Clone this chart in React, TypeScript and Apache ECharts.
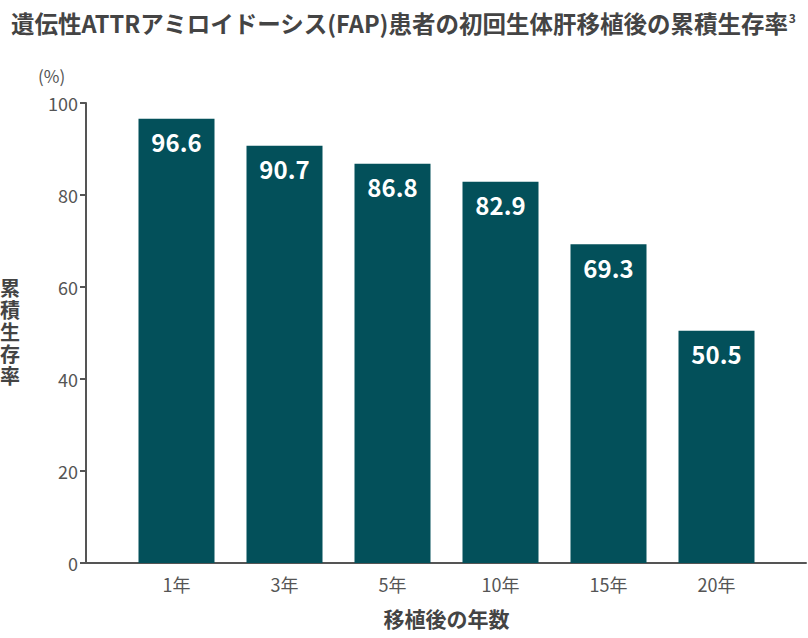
import { useEffect, useRef } from 'react';
import * as echarts from 'echarts';

const categories = ['1年', '3年', '5年', '10年', '15年', '20年'];
const survival = [96.6, 90.7, 86.8, 82.9, 69.3, 50.5];
const yTicks = [0, 20, 40, 60, 80, 100];
const yName = ['累', '積', '生', '存', '率'];

const FONT = '"Noto Sans CJK JP", "Noto Sans", sans-serif';
const BAR = '#03505a';
const GREY = '#555555';
const DARK = '#444444';

function App() {
  const chartRef = useRef<HTMLDivElement>(null);

  useEffect(() => {
    if (!chartRef.current) return;
    const chart = echarts.init(chartRef.current, null, { renderer: 'svg' });

    chart.setOption({
      animation: false,
      textStyle: { fontFamily: FONT },
      title: {
        text: '遺伝性ATTRアミロイドーシス(FAP)患者の初回生体肝移植後の累積生存率{sup|3}',
        left: 6,
        top: 6,
        textStyle: {
          fontFamily: FONT,
          fontSize: 23.5,
          fontWeight: 'bold',
          color: DARK,
          rich: {
            sup: { fontSize: 12, fontWeight: 'bold', color: DARK, verticalAlign: 'top', padding: [0, 0, 10, 0] },
          },
        },
      },
      grid: [
        { left: 122.5, right: 37.5, top: 103, bottom: 75 },
        { left: 86, right: 2, top: 103, bottom: 75 },
      ],
      xAxis: [
        {
          type: 'category',
          gridIndex: 0,
          data: categories,
          axisLine: { show: false },
          axisTick: { show: false },
          axisLabel: { color: GREY, fontSize: 18, margin: 12, fontFamily: FONT },
          name: '移植後の年数',
          nameLocation: 'middle',
          nameGap: 44,
          nameTextStyle: { color: DARK, fontSize: 21, fontWeight: 'bold', fontFamily: FONT },
        },
        {
          type: 'value',
          gridIndex: 1,
          min: 0,
          max: 1,
          axisLine: { show: true, lineStyle: { color: GREY, width: 2 } },
          axisTick: { show: false },
          axisLabel: { show: false },
          splitLine: { show: false },
        },
      ],
      yAxis: [
        {
          type: 'value',
          gridIndex: 0,
          min: 0,
          max: 100,
          interval: 20,
          offset: 36.5,
          axisLine: { show: true, lineStyle: { color: GREY, width: 2 } },
          axisTick: { show: true, length: 6, lineStyle: { color: GREY, width: 2 } },
          axisLabel: {
            color: GREY,
            fontSize: 18,
            margin: 8,
            fontFamily: FONT,
            formatter: (v: number) => (yTicks.includes(v) ? String(v) : ''),
          },
          splitLine: { show: false },
        },
        {
          type: 'value',
          gridIndex: 1,
          min: 0,
          max: 100,
          show: false,
        },
      ],
      graphic: [
        {
          type: 'text',
          left: 38,
          top: 67,
          style: { text: '(%)', fill: GREY, fontSize: 17, fontFamily: FONT },
        },
        ...yName.map((ch, i) => ({
          type: 'text',
          left: 0,
          top: 277 + i * 22,
          style: {
            text: ch,
            fill: DARK,
            fontSize: 20,
            fontWeight: 'bold',
            fontFamily: FONT,
          },
        })),
      ],
      series: [
        {
          type: 'bar',
          xAxisIndex: 0,
          yAxisIndex: 0,
          data: survival,
          barWidth: 76,
          itemStyle: { color: BAR },
          label: {
            show: true,
            position: 'insideTop',
            distance: 11,
            color: '#ffffff',
            fontSize: 24,
            fontWeight: 'bold',
            fontFamily: FONT,
            formatter: (p: { value: number }) => p.value.toFixed(1),
          },
        },
      ],
    });

    return () => chart.dispose();
  }, []);

  return (
    <div
      ref={chartRef}
      style={{ position: 'absolute', left: 0, top: 0, width: '808px', height: '638px', background: '#ffffff' }}
    />
  );
}

export default App;
